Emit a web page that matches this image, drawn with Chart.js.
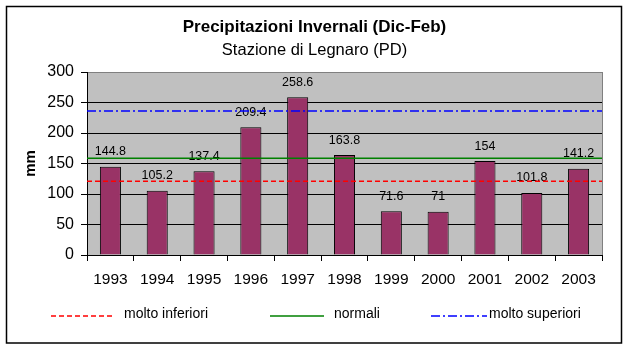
<!DOCTYPE html>
<html>
<head>
<meta charset="utf-8">
<script src="https://cdn.jsdelivr.net/npm/chart.js@4/dist/chart.umd.min.js"></script>
<style>
html,body{margin:0;padding:0;background:#fff;}
#wrap{width:629px;height:351px;position:relative;}
canvas{display:block;}
</style>
</head>
<body>
<div id="wrap"><canvas id="c" width="629" height="351"></canvas></div>
<script>
// ---- data ----
const years = ['1993','1994','1995','1996','1997','1998','1999','2000','2001','2002','2003'];
const precipitation = [144.8, 105.2, 137.4, 209.4, 258.6, 163.8, 71.6, 71, 154, 101.8, 141.2];
const thresholdNames = ['molto inferiori', 'normali', 'molto superiori'];
const thresholdValues = [121, 158.5, 236];
const yTicks = [0, 50, 100, 150, 200, 250, 300];
const chartTitle = 'Precipitazioni Invernali (Dic-Feb)';
const chartSubtitle = 'Stazione di Legnaro (PD)';
const yTitle = 'mm';

// ---- styles ----
const FONT = "'Liberation Sans', Arial, sans-serif";
Chart.defaults.font.family = FONT;
Chart.defaults.color = '#000';
const thrStyles = [
  {color: '#FF0000', dash: [5, 3]},
  {color: '#008000', dash: []},
  {color: '#0000FF', dash: [9, 3, 2, 3]}
];

const bgPlugin = {
  id: 'bg',
  beforeDraw(chart) {
    const {ctx, chartArea: a} = chart;
    ctx.save();
    ctx.fillStyle = '#fff';
    ctx.fillRect(0, 0, chart.width, chart.height);
    ctx.strokeStyle = '#000';
    ctx.lineWidth = 1.5;
    ctx.strokeRect(6.5, 6.5, 615, 336.5);
    ctx.fillStyle = '#C0C0C0';
    ctx.fillRect(a.left, a.top, a.right - a.left, a.bottom - a.top);
    ctx.strokeStyle = '#808080';
    ctx.lineWidth = 1;
    ctx.strokeRect(a.left + 0.5, a.top + 0.5, a.right - a.left, a.bottom - a.top);
    ctx.restore();
  }
};

const labelPlugin = {
  id: 'barLabels',
  afterDatasetDraw(chart, args) {
    if (args.index !== 0) return;
    const ctx = chart.ctx;
    const ds = chart.data.datasets[0];
    ctx.save();
    ctx.font = '12.5px ' + FONT;
    ctx.fillStyle = '#000';
    ctx.textAlign = 'center';
    ctx.textBaseline = 'middle';
    args.meta.data.forEach((el, i) => {
      ctx.fillText(String(ds.data[i]), el.x, el.y - 15);
    });
    ctx.restore();
  }
};

const legendLayout = {lineStart: [51, 270, 431], lineEnd: [112, 324, 487], textStart: [124, 334, 489], y: 314};
const legendPlugin = {
  id: 'customLegend',
  afterDraw(chart) {
    const ctx = chart.ctx;
    ctx.save();
    chart.data.datasets.slice(1).forEach((ds, i) => {
      ctx.strokeStyle = ds.borderColor;
      ctx.lineWidth = 1.6;
      ctx.setLineDash(ds.borderDash || []);
      ctx.beginPath();
      ctx.moveTo(legendLayout.lineStart[i], legendLayout.y + 2);
      ctx.lineTo(legendLayout.lineEnd[i], legendLayout.y + 2);
      ctx.stroke();
      ctx.setLineDash([]);
      ctx.fillStyle = '#000';
      ctx.font = '14px ' + FONT;
      ctx.textAlign = 'left';
      ctx.textBaseline = 'middle';
      ctx.fillText(ds.label, legendLayout.textStart[i], legendLayout.y);
    });
    ctx.restore();
  }
};

const datasets = [
  {
    type: 'bar',
    label: 'Precipitazioni',
    data: precipitation,
    backgroundColor: '#993366',
    borderColor: '#000',
    borderWidth: 1,
    barPercentage: 0.45,
    categoryPercentage: 1,
    grouped: false,
    xAxisID: 'x',
    yAxisID: 'y',
    order: 1
  }
].concat(thresholdNames.map((name, i) => ({
  type: 'line',
  label: name,
  data: [{x: 0, y: thresholdValues[i]}, {x: 1, y: thresholdValues[i]}],
  xAxisID: 'xl',
  yAxisID: 'y',
  borderColor: thrStyles[i].color,
  borderDash: thrStyles[i].dash,
  borderWidth: 1.5,
  pointRadius: 0,
  fill: false,
  tension: 0,
  order: 0
})));

new Chart(document.getElementById('c'), {
  type: 'bar',
  data: {labels: years, datasets: datasets},
  plugins: [bgPlugin, labelPlugin, legendPlugin],
  options: {
    responsive: false,
    animation: false,
    devicePixelRatio: 1,
    layout: {padding: 0},
    plugins: {
      legend: {display: false},
      tooltip: {enabled: false},
      title: {
        display: true,
        text: chartTitle,
        font: {size: 17, weight: 'bold', lineHeight: 1.2},
        color: '#000',
        padding: {top: 17.3, bottom: 0}
      },
      subtitle: {
        display: true,
        text: chartSubtitle,
        font: {size: 16.5, weight: 'normal', lineHeight: 1.2},
        color: '#000',
        padding: {top: 2.6, bottom: 11.9}
      }
    },
    scales: {
      x: {
        type: 'category',
        position: 'bottom',
        offset: true,
        grid: {display: true, drawOnChartArea: false, drawTicks: true, tickLength: 6, tickColor: '#000', offset: true},
        border: {display: true, color: '#000', width: 1},
        ticks: {font: {size: 15.5}, color: '#000', padding: 9, maxRotation: 0, autoSkip: false},
        afterFit: s => { s.height = 96; }
      },
      xl: {type: 'linear', display: false, min: 0, max: 1, offset: false},
      y: {
        type: 'linear',
        position: 'left',
        min: 0,
        max: 300,
        afterBuildTicks: s => { s.ticks = yTicks.map(v => ({value: v})); },
        grid: {
          color: c => (c.tick && c.tick.value === 300) ? 'rgba(0,0,0,0)' : '#000',
          tickColor: '#000',
          tickLength: 6,
          drawTicks: true
        },
        border: {display: true, color: '#000', width: 1},
        ticks: {font: {size: 16}, color: '#000', padding: 7},
        title: {display: true, text: yTitle, font: {size: 15, weight: 'bold', lineHeight: 1.2}, color: '#000', padding: {top: 21.7, bottom: 0}},
        afterFit: s => { s.width = 87; }
      },
      y2: {
        type: 'linear',
        position: 'right',
        display: true,
        grid: {display: false, drawTicks: false},
        ticks: {display: false},
        border: {display: false},
        afterFit: s => { s.width = 27; }
      }
    }
  }
});
</script>
</body>
</html>
